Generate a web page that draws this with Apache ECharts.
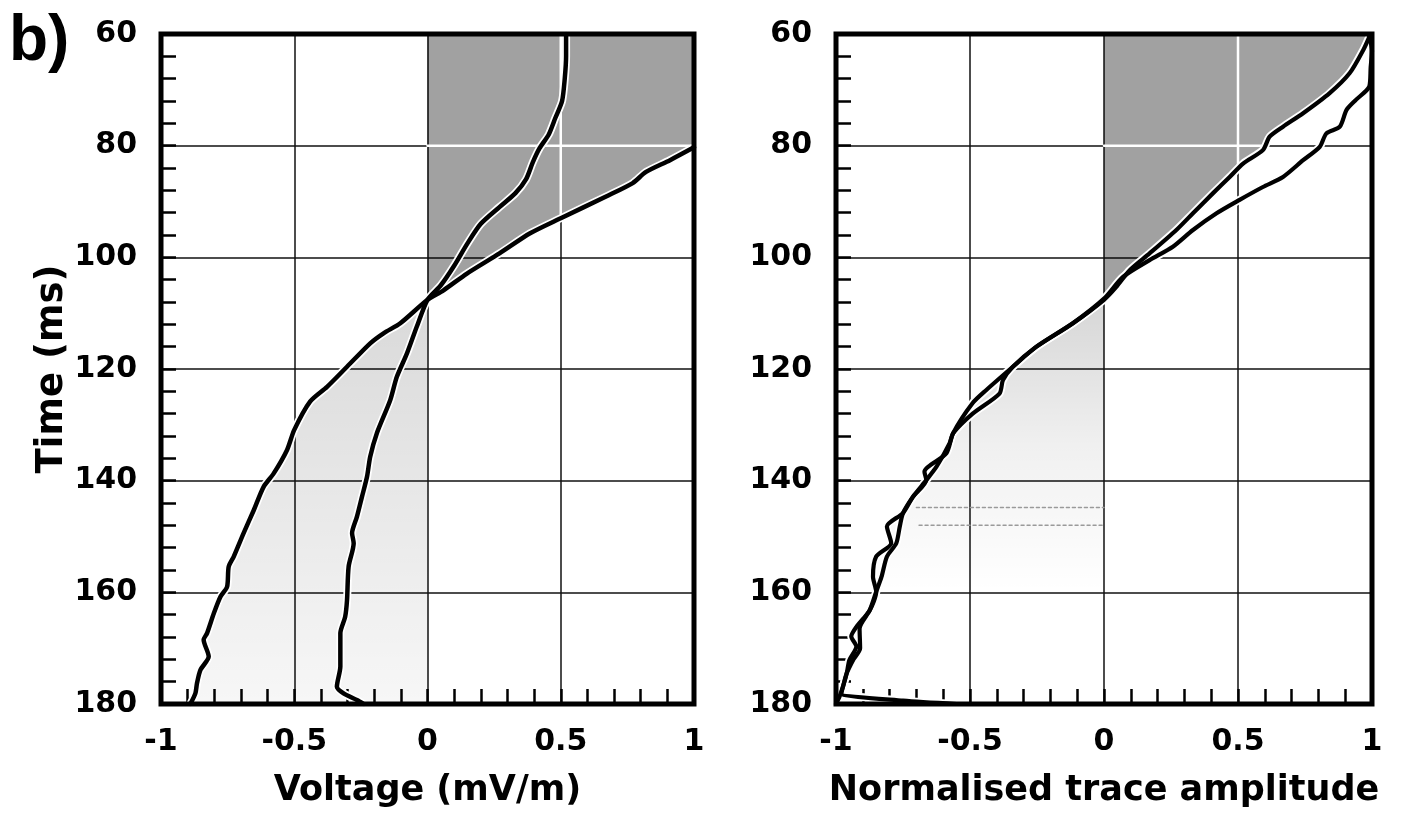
<!DOCTYPE html>
<html>
<head>
<meta charset="utf-8">
<script src="https://cdn.jsdelivr.net/npm/echarts@6/dist/echarts.min.js"></script>
<style>
html,body{margin:0;padding:0;background:#fff;}
#chart{width:1412px;height:813px;}
</style>
</head>
<body>
<div id="chart"></div>
<script>
// ---- tick labels ----
const voltTicks = [-1, -0.5, 0, 0.5, 1];
const timeTicks = [60, 80, 100, 120, 140, 160, 180];

// ---- axis titles ----
const panelLabel = 'b)';
const yTitle = 'Time (ms)';
const xTitleLeft = 'Voltage (mV/m)';
const xTitleRight = 'Normalised trace amplitude';

// ---- left panel curves: [value, time ms] ----
const leftCurveA = [[0.52,60],[0.52,64],[0.515,68],[0.505,72],[0.48,75],[0.455,78],[0.42,80.5],[0.395,83],[0.37,86],[0.33,88.5],[0.27,91],[0.2,94],[0.15,97.5],[0.1,101.5],[0.05,105],[0,107.6],[-0.04,112.4],[-0.077,117.2],[-0.115,121.4],[-0.14,125.6],[-0.19,131.5],[-0.215,135.7],[-0.227,139.3],[-0.246,142.9],[-0.265,146.5],[-0.283,149.4],[-0.277,151.2],[-0.296,155.4],[-0.302,161.4],[-0.309,164.4],[-0.327,167.3],[-0.327,173.3],[-0.34,176.9],[-0.315,178.1],[-0.265,179.3],[-0.24,180]];
const leftCurveB = [[1,80.3],[0.91,82.6],[0.82,84.7],[0.77,86.7],[0.67,89.1],[0.5,93],[0.385,95.7],[0.27,99.3],[0.148,102.9],[0.06,105.9],[0,107.6],[-0.102,111.8],[-0.165,113.6],[-0.215,115.4],[-0.302,119.6],[-0.377,123.2],[-0.44,125.8],[-0.5,130.9],[-0.527,134.5],[-0.577,138.7],[-0.615,141.1],[-0.652,145.3],[-0.69,149.4],[-0.727,153.6],[-0.746,155.4],[-0.752,159],[-0.777,160.8],[-0.802,163.8],[-0.827,167.3],[-0.84,168.5],[-0.821,171.5],[-0.852,173.9],[-0.865,176.3],[-0.871,178.1],[-0.89,180]];

// ---- right panel curves: [value, time ms] ----
const rightCurveC = [[0.99,60.5],[0.967,62.9],[0.917,67],[0.842,70.6],[0.743,74.2],[0.668,76.6],[0.618,78.4],[0.593,80.8],[0.519,83.2],[0.469,85.6],[0.407,88.5],[0.332,92.1],[0.27,95.1],[0.17,99.3],[0.096,102.3],[0.046,105.3],[0,107.6],[-0.116,111.8],[-0.252,116],[-0.34,119.6],[-0.44,123.8],[-0.49,126.1],[-0.563,131.5],[-0.588,135.1],[-0.67,138.4],[-0.663,139.9],[-0.713,142.9],[-0.75,145.8],[-0.81,148.2],[-0.794,151.2],[-0.85,153.6],[-0.862,157.2],[-0.85,159.9],[-0.874,163.2],[-0.924,166.2],[-0.943,167.9],[-0.924,169.7],[-0.95,172.1],[-0.96,174.5],[-0.974,176.9],[-0.987,178.7],[-1,180]];
const rightCurveD = [[0.99,60.5],[1,63],[0.995,66],[0.99,69.4],[0.94,71.8],[0.905,73.6],[0.88,76.6],[0.83,77.8],[0.805,80.2],[0.743,82.6],[0.668,85.6],[0.593,87.4],[0.506,89.7],[0.42,92.1],[0.332,95.1],[0.257,98.1],[0.17,100.5],[0.071,103.5],[0,107.4],[-0.116,111.8],[-0.252,116],[-0.34,119.6],[-0.377,122],[-0.39,124.4],[-0.49,128],[-0.563,131.5],[-0.576,133.3],[-0.625,137.5],[-0.663,139.9],[-0.713,142.9],[-0.75,145.8],[-0.762,148.2],[-0.775,151.2],[-0.81,153.6],[-0.83,157.2],[-0.85,159.9],[-0.874,163.2],[-0.912,166.5],[-0.91,170],[-0.936,172.1],[-0.96,174.5],[-0.974,176.9],[-0.98,178.1],[-0.75,179.4],[-0.55,180]];

// faint horizontal speckle streaks in right panel
const rightStreak1 = [[-0.70,144.8],[0,144.8]];
const rightStreak2 = [[-0.69,148],[0,148]];

// ---- derived ----
const T_MIN = timeTicks[0], T_MAX = timeTicks[timeTicks.length-1];
const V_MIN = voltTicks[0], V_MAX = voltTicks[voltTicks.length-1];

function vAt(curve, t){
  for(let i=0;i<curve.length-1;i++){
    const a=curve[i], b=curve[i+1];
    if((a[1]-t)*(b[1]-t)<=0 && a[1]!==b[1]){
      return a[0]+(b[0]-a[0])*(t-a[1])/(b[1]-a[1]);
    }
  }
  return null;
}
function tAt(curve, v){
  for(let i=0;i<curve.length-1;i++){
    const a=curve[i], b=curve[i+1];
    if((a[0]-v)*(b[0]-v)<=0 && a[0]!==b[0]){
      return a[1]+(b[1]-a[1])*(v-a[0])/(b[0]-a[0]);
    }
  }
  return null;
}

const leftUpperFill = [[0,T_MIN],[V_MAX,T_MIN]].concat(leftCurveB.filter(p=>p[0]>=0));
const leftLowerFill = leftCurveB.filter(p=>p[0]<=0).concat([[0,T_MAX]]);
const rightUpperFill = [[0,T_MIN],[rightCurveC[0][0],T_MIN]].concat(rightCurveC.filter(p=>p[0]>=0));
const rightLowerFill = rightCurveC.filter(p=>p[0]<=0 && p[1]<=160).concat([[0,160]]);

const gridGapLeft80 = [[0,80],[vAt(leftCurveB,80) ?? V_MAX,80]];
const gridGapLeft05 = [[0.5,T_MIN],[0.5,tAt(leftCurveB,0.5)]];
const gridGapRight80 = [[0,80],[vAt(rightCurveC,80),80]];
const gridGapRight05 = [[0.5,T_MIN],[0.5,tAt(rightCurveC,0.5)]];

const FONT = 'DejaVu Sans';

function fillSeries(idx, pts, color){
  return {
    type:'custom', xAxisIndex:idx, yAxisIndex:idx, data:[[0,T_MIN]], silent:true, clip:true, z:1,
    renderItem:function(params, api){
      return {type:'polygon', shape:{points:pts.map(p=>api.coord(p))}, style:{fill:color, stroke:null}};
    }
  };
}
function lineSeries(idx, pts, color, width, z, type, smooth){
  return {
    type:'line', xAxisIndex:idx, yAxisIndex:idx, data:pts, symbol:'none', clip:true, z:z,
    smooth: smooth===undefined ? 0.25 : smooth, silent:true,
    lineStyle:{color:color, width:width, type:type||'solid', cap:'round', join:'round'}
  };
}

function makeGrid(left, width){
  return {left:left, top:34, width:width, height:670, show:true, borderWidth:5, borderColor:'#000',
          backgroundColor:'rgba(0,0,0,0)', z:10};
}
function makeX(idx, name){
  return {
    gridIndex:idx, type:'value', min:V_MIN, max:V_MAX, interval:voltTicks[1]-voltTicks[0],
    position:'bottom',
    axisLine:{show:false, onZero:false},
    axisTick:{show:true, inside:true, length:15, lineStyle:{color:'#000', width:2.5}},
    minorTick:{show:true, splitNumber:5, length:15, lineStyle:{color:'#000', width:2.5}},
    splitLine:{show:true, lineStyle:{color:'#111', width:1.5}},
    axisLabel:{fontSize:30, fontWeight:'bold', fontFamily:FONT, color:'#000', margin:23},
    name:name, nameLocation:'middle', nameGap:69,
    nameTextStyle:{fontSize:35, fontWeight:'bold', fontFamily:FONT, color:'#000'}
  };
}
function makeY(idx, name){
  return {
    gridIndex:idx, type:'value', inverse:true, min:T_MIN, max:T_MAX, interval:timeTicks[1]-timeTicks[0],
    position:'left',
    axisLine:{show:false, onZero:false},
    axisTick:{show:true, inside:true, length:15, lineStyle:{color:'#000', width:2.5}},
    minorTick:{show:true, splitNumber:5, length:15, lineStyle:{color:'#000', width:2.5}},
    splitLine:{show:true, lineStyle:{color:'#111', width:1.5}},
    axisLabel:{fontSize:30, fontWeight:'bold', fontFamily:FONT, color:'#000', margin:24},
    name:name, nameLocation:'middle', nameGap:76,
    nameTextStyle:{fontSize:37, fontWeight:'bold', fontFamily:FONT, color:'#000'}
  };
}

const darkFill = 'rgba(0,0,0,0.37)';
const lightGrad = new echarts.graphic.LinearGradient(0,0,0,1,[
  {offset:0, color:'rgba(0,0,0,0.15)'},{offset:1, color:'rgba(0,0,0,0.03)'}]);
const lightGradR = new echarts.graphic.LinearGradient(0,0,0,1,[
  {offset:0, color:'rgba(0,0,0,0.16)'},{offset:0.5, color:'rgba(0,0,0,0.06)'},{offset:1, color:'rgba(0,0,0,0.0)'}]);

const series = [
  fillSeries(0, leftUpperFill, darkFill),
  fillSeries(0, leftLowerFill, lightGrad),
  fillSeries(1, rightUpperFill, darkFill),
  fillSeries(1, rightLowerFill, lightGradR),
  lineSeries(0, gridGapLeft80, '#fff', 2.5, 2, 'solid', false),
  lineSeries(0, gridGapLeft05, '#fff', 2.5, 2, 'solid', false),
  lineSeries(1, gridGapRight80, '#fff', 2.5, 2, 'solid', false),
  lineSeries(1, gridGapRight05, '#fff', 2.5, 2, 'solid', false),
  lineSeries(1, rightStreak1, '#9a9a9a', 1.5, 2, [3,3], false),
  lineSeries(1, rightStreak2, '#9a9a9a', 1.5, 2, [3,3], false),
  lineSeries(0, leftCurveA, '#fff', 8, 3),
  lineSeries(0, leftCurveB, '#fff', 8, 3),
  lineSeries(1, rightCurveC, '#fff', 8, 3),
  lineSeries(1, rightCurveD, '#fff', 8, 3),
  lineSeries(0, leftCurveA, '#000', 4.5, 4),
  lineSeries(0, leftCurveB, '#000', 4.5, 4),
  lineSeries(1, rightCurveC, '#000', 4.2, 4),
  lineSeries(1, rightCurveD, '#000', 4.2, 4)
];

const chart = echarts.init(document.getElementById('chart'), null, {renderer:'canvas'});
chart.setOption({
  animation:false,
  backgroundColor:'#fff',
  grid:[makeGrid(161,533), makeGrid(836,536)],
  xAxis:[makeX(0, xTitleLeft), makeX(1, xTitleRight)],
  yAxis:[makeY(0, yTitle), makeY(1, '')],
  graphic:[{type:'text', left:9, top:10, z:20,
    style:{text:panelLabel, fontSize:64, fontWeight:'bold', fontFamily:'Liberation Sans', fill:'#000'}}],
  series:series
});
</script>
</body>
</html>
